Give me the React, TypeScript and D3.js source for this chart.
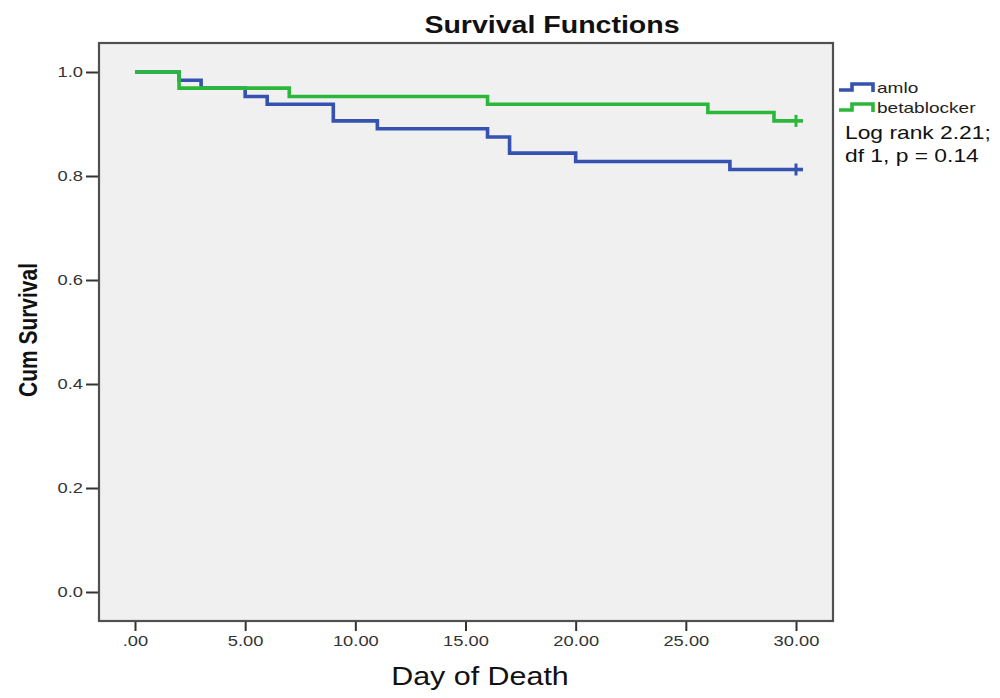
import { useRef, useEffect } from "react";
import * as d3 from "d3";

// Kaplan-Meier step values
const amloTimes = [0, 2, 3, 5, 6, 9, 11, 16, 17, 20, 27, 30];
const amloSurv = [1.0, 0.984, 0.969, 0.953, 0.938, 0.906, 0.891, 0.875, 0.844, 0.828, 0.8125, 0.8125];
const betaTimes = [0, 2, 7, 16, 26, 29, 30];
const betaSurv = [1.0, 0.969, 0.953, 0.938, 0.922, 0.906, 0.906];

const xTicks = [0, 5, 10, 15, 20, 25, 30];
const yTicks = [0, 0.2, 0.4, 0.6, 0.8, 1.0];
const seriesNames = ["amlo", "betablocker"];
const statLines = ["Log rank 2.21;", "df 1, p = 0.14"];

const BLUE = "#3552b0";
const GREEN = "#2bb83a";
const FONT = "'Liberation Sans', Arial, sans-serif";

const W = 1000;
const H = 698;
const FRAME = { left: 99, right: 833, top: 43, bottom: 621 };

// the source image is a bit stretched sideways, so widen text to match
function stretch(sel: d3.Selection<any, any, any, any>, factor: number) {
  sel.each(function () {
    const node = this as SVGTextElement;
    const len = node.getComputedTextLength();
    d3.select(node).attr("textLength", len * factor).attr("lengthAdjust", "spacingAndGlyphs");
  });
}

export default function App() {
  const svgRef = useRef<SVGSVGElement>(null);

  useEffect(() => {
    if (!svgRef.current) return;
    const svg = d3.select(svgRef.current);
    svg.selectAll("*").remove();

    const x = d3.scaleLinear().domain([0, 30]).range([135, 796]);
    const y = d3.scaleLinear().domain([0, 1]).range([592, 72]);

    // Plot frame
    svg.append("rect")
      .attr("x", FRAME.left)
      .attr("y", FRAME.top)
      .attr("width", FRAME.right - FRAME.left)
      .attr("height", FRAME.bottom - FRAME.top)
      .attr("fill", "#f0f0f0")
      .attr("stroke", "#505050")
      .attr("stroke-width", 2.2);

    // Y axis
    const yAxis = svg.append("g")
      .attr("transform", `translate(${FRAME.left - 1},0)`)
      .call(d3.axisLeft(y).tickValues(yTicks).tickSize(12).tickPadding(3).tickFormat(d3.format(".1f")));
    yAxis.select(".domain").remove();
    yAxis.selectAll(".tick line").attr("stroke", "#333").attr("stroke-width", 2);
    const yLabels = yAxis.selectAll("text")
      .attr("fill", "#333")
      .attr("font-family", FONT)
      .attr("font-size", "15px");
    stretch(yLabels, 1.22);

    // X axis
    const xAxis = svg.append("g")
      .attr("transform", `translate(0,${FRAME.bottom + 1})`)
      .call(
        d3.axisBottom(x)
          .tickValues(xTicks)
          .tickSize(9)
          .tickPadding(4)
          .tickFormat((d) => ((d as number) === 0 ? ".00" : d3.format(".2f")(d as number)))
      );
    xAxis.select(".domain").remove();
    xAxis.selectAll(".tick line").attr("stroke", "#333").attr("stroke-width", 2);
    const xLabels = xAxis.selectAll("text")
      .attr("fill", "#333")
      .attr("font-family", FONT)
      .attr("font-size", "15px");
    stretch(xLabels, 1.22);

    // Title
    const title = svg.append("text")
      .attr("x", 552)
      .attr("y", 33)
      .attr("text-anchor", "middle")
      .attr("font-family", FONT)
      .attr("font-weight", "bold")
      .attr("font-size", "23px")
      .attr("fill", "#111")
      .text("Survival Functions");
    stretch(title, 1.24);

    // Axis labels
    const xTitle = svg.append("text")
      .attr("x", 480)
      .attr("y", 685)
      .attr("text-anchor", "middle")
      .attr("font-family", FONT)
      .attr("font-size", "26px")
      .attr("fill", "#111")
      .text("Day of Death");
    stretch(xTitle, 1.17);

    svg.append("text")
      .attr("transform", `translate(37,330) rotate(-90)`)
      .attr("text-anchor", "middle")
      .attr("font-family", FONT)
      .attr("font-weight", "bold")
      .attr("font-size", "26px")
      .attr("fill", "#111")
      .attr("textLength", 134)
      .attr("lengthAdjust", "spacingAndGlyphs")
      .text("Cum Survival");

    // Survival curves
    const line = d3.line<[number, number]>()
      .x((d) => x(d[0]))
      .y((d) => y(d[1]))
      .curve(d3.curveStepAfter);

    const series = [
      { times: amloTimes, surv: amloSurv, color: BLUE },
      { times: betaTimes, surv: betaSurv, color: GREEN },
    ];

    series.forEach((s) => {
      const pts = s.times.map((t, i) => [t, s.surv[i]] as [number, number]);
      svg.append("path")
        .datum(pts)
        .attr("d", line)
        .attr("fill", "none")
        .attr("stroke", s.color)
        .attr("stroke-width", 3.6);
      // censor mark at the end
      const last = pts[pts.length - 1];
      svg.append("line")
        .attr("x1", x(last[0]))
        .attr("x2", x(last[0]))
        .attr("y1", y(last[1]) - 6)
        .attr("y2", y(last[1]) + 6)
        .attr("stroke", s.color)
        .attr("stroke-width", 3);
      svg.append("line")
        .attr("x1", x(last[0]))
        .attr("x2", x(last[0]) + 7)
        .attr("y1", y(last[1]))
        .attr("y2", y(last[1]))
        .attr("stroke", s.color)
        .attr("stroke-width", 3.6);
    });

    // Legend
    const legend = svg.append("g").attr("transform", "translate(839,0)");
    seriesNames.forEach((name, i) => {
      const yy = 90 + i * 20;
      legend.append("path")
        .attr("d", `M0,${yy} H13 V${yy - 6} H34 V${yy + 2}`)
        .attr("fill", "none")
        .attr("stroke", i === 0 ? BLUE : GREEN)
        .attr("stroke-width", 3.6);
      const t = legend.append("text")
        .attr("x", 38)
        .attr("y", yy + 3)
        .attr("font-family", FONT)
        .attr("font-size", "15px")
        .attr("fill", "#222")
        .text(name);
      stretch(t, 1.27);
    });

    statLines.forEach((s, i) => {
      const t = svg.append("text")
        .attr("x", 845)
        .attr("y", 139 + i * 23)
        .attr("font-family", FONT)
        .attr("font-size", "19px")
        .attr("fill", "#111")
        .text(s);
      stretch(t, 1.2);
    });
  }, []);

  return (
    <svg
      ref={svgRef}
      width={W}
      height={H}
      viewBox={`0 0 ${W} ${H}`}
      style={{ position: "absolute", left: 0, top: 0, background: "#fff" }}
    />
  );
}
